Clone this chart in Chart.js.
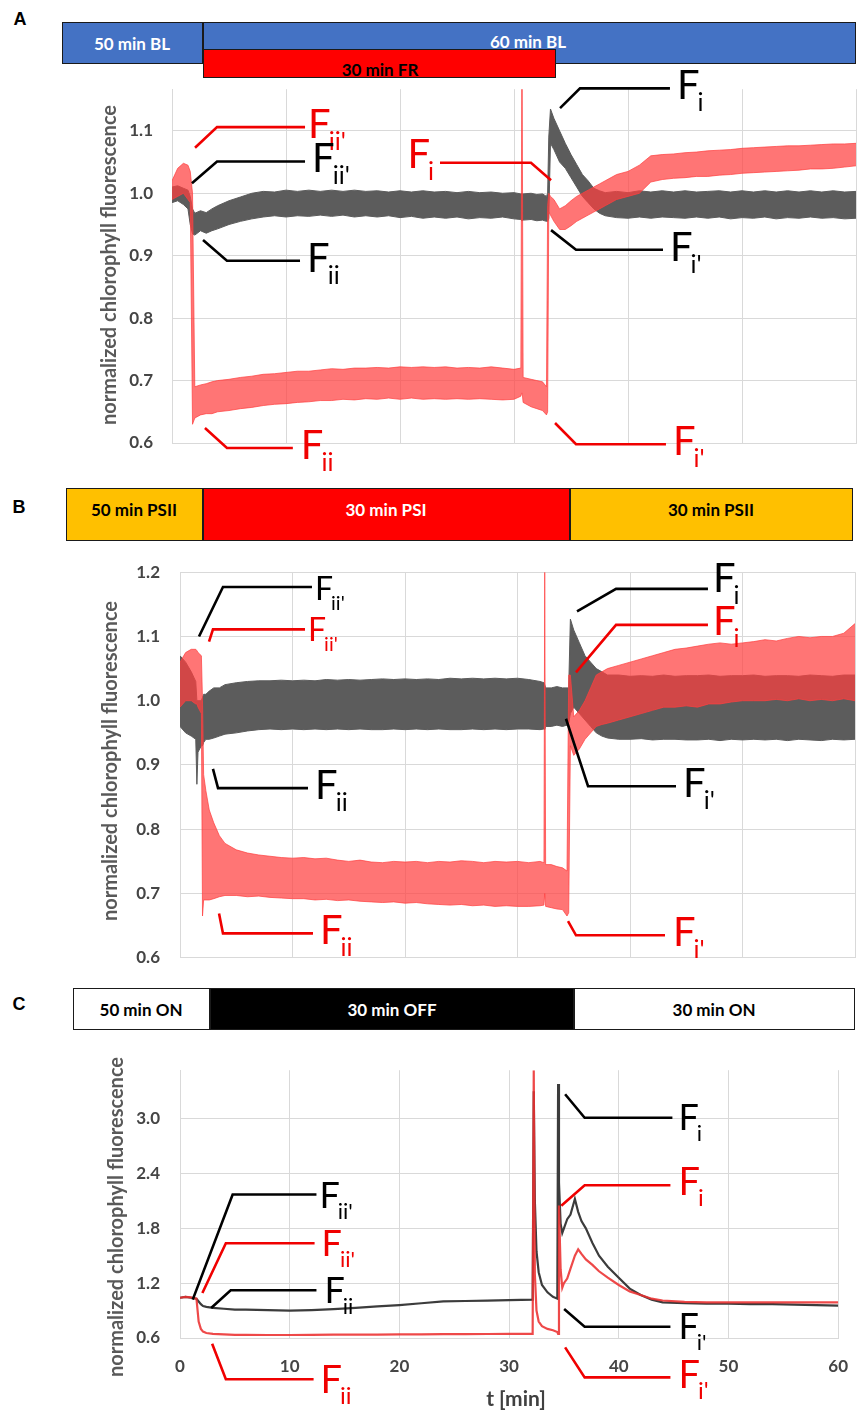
<!DOCTYPE html>
<html><head><meta charset="utf-8">
<script src="https://cdn.jsdelivr.net/npm/chart.js@4.4.1/dist/chart.umd.min.js"></script>
<style>
html,body{margin:0;padding:0;background:#fff;}
#page{position:relative;width:866px;height:1417px;overflow:hidden;font-family:Lato,"Open Sans",sans-serif;}
.box{position:absolute;box-sizing:border-box;border:1.5px solid #1a1a1a;}
.lbl{position:absolute;transform:translate(-50%,-50%);font-weight:700;font-size:17px;white-space:nowrap;line-height:1;}
.letter{position:absolute;transform:translate(-50%,-50%);font-family:"Liberation Sans",Arial,sans-serif;font-weight:700;font-size:18px;line-height:1;}
.wrap{position:absolute;left:0;width:866px;overflow:hidden;}
canvas{display:block;}
</style></head>
<body>
<div id="page">
  <!-- Panel A condition bars -->
  <div class="letter" style="left:20px;top:19px">A</div>
  <div class="box" style="left:62px;top:22px;width:141px;height:42px;background:#4472C4"></div>
  <div class="box" style="left:203px;top:22px;width:653px;height:42px;background:#4472C4"></div>
  <div class="box" style="left:203px;top:49px;width:353px;height:29px;background:#FF0000"></div>
  <div class="lbl" style="left:132px;top:43px;color:#fff">50 min BL</div>
  <div class="lbl" style="left:528px;top:41px;color:#fff">60 min BL</div>
  <div class="lbl" style="left:380px;top:69px;color:#000">30 min FR</div>
  <div class="wrap" style="top:60px;height:420px"><canvas id="cA" width="866" height="420" style="width:866px;height:420px"></canvas></div>

  <!-- Panel B condition bars -->
  <div class="letter" style="left:19px;top:507px">B</div>
  <div class="box" style="left:66px;top:488px;width:137px;height:53px;background:#FFC000"></div>
  <div class="box" style="left:203px;top:488px;width:367px;height:53px;background:#FF0000"></div>
  <div class="box" style="left:570px;top:488px;width:283px;height:53px;background:#FFC000"></div>
  <div class="lbl" style="left:134px;top:509px;color:#000">50 min PSII</div>
  <div class="lbl" style="left:386px;top:509px;color:#fff">30 min PSI</div>
  <div class="lbl" style="left:711px;top:509px;color:#000">30 min PSII</div>
  <div class="wrap" style="top:542px;height:426px"><canvas id="cB" width="866" height="446" style="width:866px;height:446px"></canvas></div>

  <!-- Panel C condition bars -->
  <div class="letter" style="left:19px;top:1004px">C</div>
  <div class="box" style="left:73px;top:988px;width:137px;height:42px;background:#FFFFFF"></div>
  <div class="box" style="left:210px;top:988px;width:364px;height:42px;background:#000000"></div>
  <div class="box" style="left:574px;top:988px;width:281px;height:42px;background:#FFFFFF"></div>
  <div class="lbl" style="left:141px;top:1009px;color:#000">50 min ON</div>
  <div class="lbl" style="left:392px;top:1009px;color:#fff">30 min OFF</div>
  <div class="lbl" style="left:714px;top:1009px;color:#000">30 min ON</div>
  <div class="wrap" style="top:1040px;height:377px"><canvas id="cC" width="866" height="377" style="width:866px;height:377px"></canvas></div>
</div>
<script>
// ---------- DATA ----------
const xTicks = [0, 10, 20, 30, 40, 50, 60];
const yTicksA = [0.6, 0.7, 0.8, 0.9, 1.0, 1.1];
const yTicksB = [0.6, 0.7, 0.8, 0.9, 1.0, 1.1, 1.2];
const yTicksC = [0.6, 1.2, 1.8, 2.4, 3.0];

// Panel A: time (min) and noise envelopes (low / high) of each trace
const tA = [0,0.5,1,1.4,1.6,1.8,2.0,2.5,3,3.5,
  4,5,6,7,8,9,10,11,12,13,
  14,15,16,17,18,19,20,21,22,23,
  24,25,26,27,28,29,30,30.6,30.68,30.72,
  30.8,31.5,32,32.5,32.85,32.95,33.05,33.2,33.5,34,
  34.5,35,35.5,36,36.5,37,37.5,38,39,40,
  41,42,43,44,45,46,47,48,49,50,
  51,52,53,54,55,56,57,58,59,60];
const blackA_lo = [0.985,0.988,0.982,0.975,0.95,0.935,0.933,0.94,0.936,0.94,
  0.943,0.95,0.955,0.959,0.962,0.964,0.962,0.964,0.963,0.965,
  0.963,0.965,0.962,0.964,0.962,0.964,0.961,0.963,0.960,0.962,
  0.960,0.962,0.959,0.961,0.960,0.962,0.959,0.958,0.956,0.956,
  0.957,0.958,0.956,0.957,0.955,0.955,0.96,1.08,1.07,1.05,
  1.04,1.025,1.01,0.995,0.985,0.975,0.968,0.964,0.961,0.960,
  0.962,0.960,0.962,0.961,0.960,0.962,0.960,0.962,0.959,0.961,
  0.960,0.962,0.959,0.961,0.960,0.962,0.960,0.961,0.959,0.960];
const blackA_hi = [1.01,1.012,1.008,1.005,0.995,0.975,0.968,0.972,0.969,0.975,
  0.98,0.988,0.994,1.0,1.003,1.002,1.005,1.003,1.005,1.003,
  1.005,1.003,1.005,1.003,1.004,1.002,1.004,1.002,1.004,1.002,
  1.003,1.001,1.003,1.001,1.002,1.0,1.001,0.999,1.0,0.999,
  0.999,1.0,0.998,0.999,0.995,1.0,1.09,1.135,1.12,1.1,
  1.08,1.062,1.046,1.03,1.02,1.008,1.004,1.001,1.003,1.001,
  1.004,1.002,1.004,1.002,1.004,1.002,1.003,1.004,1.002,1.004,
  1.002,1.004,1.002,1.004,1.002,1.004,1.002,1.004,1.002,1.003];
const redA_lo = [0.99,0.995,1.0,0.99,0.985,0.63,0.64,0.645,0.647,0.647,
  0.65,0.652,0.655,0.657,0.66,0.662,0.663,0.665,0.666,0.668,
  0.668,0.670,0.669,0.671,0.670,0.672,0.670,0.672,0.670,0.671,
  0.670,0.671,0.670,0.671,0.670,0.669,0.670,0.675,0.68,0.68,
  0.665,0.658,0.655,0.652,0.645,0.65,0.97,0.965,0.955,0.942,
  0.942,0.948,0.955,0.96,0.965,0.97,0.975,0.98,0.99,0.995,
  1.0,1.018,1.022,1.024,1.025,1.027,1.027,1.029,1.030,1.032,
  1.033,1.034,1.035,1.036,1.037,1.039,1.039,1.040,1.042,1.044];
const redA_hi = [1.02,1.04,1.048,1.045,1.035,1.0,0.69,0.693,0.695,0.698,
  0.70,0.702,0.705,0.707,0.71,0.711,0.713,0.715,0.715,0.717,
  0.719,0.718,0.720,0.720,0.721,0.720,0.722,0.721,0.722,0.721,
  0.722,0.720,0.721,0.720,0.722,0.720,0.718,0.72,1.17,1.17,
  0.705,0.702,0.70,0.698,0.69,0.98,1.0,0.995,0.99,0.975,
  0.98,0.988,0.995,1.0,1.005,1.01,1.015,1.02,1.03,1.035,
  1.045,1.06,1.062,1.063,1.065,1.066,1.068,1.069,1.070,1.072,
  1.073,1.074,1.075,1.076,1.076,1.077,1.078,1.079,1.079,1.08];

// Panel B
const tB = [0,0.5,1,1.4,1.5,1.6,1.9,2.0,2.1,2.3,
  2.6,3,3.5,4,5,6,7,8,9,10,
  11,12,13,14,15,16,17,18,19,20,
  21,22,23,24,25,26,27,28,29,30,
  31,32,32.35,32.42,32.5,33,33.5,34,34.4,34.55,
  34.7,35,35.5,36,36.5,37,37.5,38,39,40,
  41,42,43,44,45,46,47,48,49,50,
  51,52,53,54,55,56,57,58,59,60];
const blackB_lo = [0.96,0.95,0.945,0.94,0.87,0.92,0.93,0.93,0.935,0.94,
  0.94,0.942,0.945,0.948,0.95,0.953,0.955,0.956,0.955,0.956,
  0.955,0.956,0.955,0.956,0.955,0.956,0.955,0.955,0.956,0.955,
  0.956,0.955,0.956,0.955,0.955,0.956,0.955,0.956,0.955,0.956,
  0.956,0.955,0.956,0.955,0.96,0.96,0.962,0.96,0.962,0.965,
  0.98,0.99,0.98,0.97,0.96,0.95,0.945,0.942,0.940,0.940,
  0.941,0.939,0.940,0.940,0.939,0.939,0.940,0.938,0.940,0.939,
  0.940,0.939,0.940,0.938,0.940,0.939,0.938,0.940,0.939,0.940];
const blackB_hi = [1.07,1.06,1.045,1.03,1.0,1.0,1.0,1.005,1.01,1.01,
  1.015,1.02,1.02,1.025,1.028,1.03,1.031,1.031,1.032,1.031,
  1.032,1.031,1.033,1.032,1.033,1.032,1.033,1.034,1.033,1.034,
  1.033,1.034,1.033,1.035,1.034,1.035,1.034,1.035,1.034,1.035,
  1.033,1.03,1.028,1.025,1.02,1.02,1.022,1.02,1.02,1.02,
  1.127,1.11,1.09,1.07,1.06,1.05,1.045,1.04,1.04,1.038,
  1.039,1.038,1.04,1.038,1.039,1.039,1.04,1.038,1.039,1.039,
  1.04,1.038,1.039,1.039,1.038,1.04,1.039,1.038,1.04,1.04];
const redB_lo = [0.99,1.0,1.0,0.995,0.995,0.99,0.98,0.665,0.69,0.69,
  0.69,0.692,0.695,0.697,0.697,0.695,0.696,0.694,0.693,0.692,
  0.692,0.69,0.691,0.689,0.69,0.688,0.687,0.686,0.687,0.685,
  0.686,0.684,0.683,0.682,0.683,0.681,0.682,0.68,0.681,0.68,
  0.68,0.681,0.682,0.70,0.68,0.678,0.676,0.675,0.665,0.67,
  0.93,0.915,0.925,0.94,0.95,0.96,0.963,0.965,0.97,0.975,
  0.98,0.985,0.99,0.99,0.992,0.99,0.995,0.995,0.998,1.0,
  1.0,1.0,1.002,1.0,1.003,1.0,1.002,1.0,1.003,1.0];
const redB_hi = [1.06,1.075,1.08,1.08,1.078,1.075,1.07,1.0,0.885,0.86,
  0.83,0.81,0.79,0.778,0.768,0.763,0.76,0.758,0.756,0.755,
  0.756,0.754,0.755,0.752,0.75,0.752,0.749,0.748,0.75,0.749,
  0.75,0.748,0.75,0.749,0.751,0.75,0.748,0.75,0.749,0.75,
  0.748,0.75,0.748,1.2,0.745,0.745,0.742,0.74,0.735,1.04,
  1.04,0.975,0.985,1.0,1.02,1.04,1.045,1.05,1.055,1.06,
  1.065,1.07,1.075,1.08,1.082,1.085,1.088,1.09,1.088,1.09,
  1.092,1.095,1.093,1.097,1.1,1.098,1.1,1.1,1.105,1.12];

// Panel C
const tC = [0,0.5,1,1.5,1.7,1.9,2.1,2.4,3,4,
  5,6,8,10,12,14,16,18,20,22,
  24,26,28,30,32.15,32.25,32.35,32.5,32.7,33,
  33.5,34,34.4,34.47,34.55,34.7,34.85,35,35.3,35.6,
  36,36.3,36.6,37,37.6,38.2,39,40,41,42,
  43,44,46,48,50,52,54,56,58,60];
const blackC = [1.04,1.05,1.04,1.03,1.0,0.97,0.95,0.94,0.93,0.92,
  0.91,0.91,0.905,0.90,0.905,0.915,0.93,0.945,0.96,0.98,
  1.0,1.005,1.01,1.015,1.02,3.3,2.1,1.55,1.32,1.18,
  1.1,1.05,1.03,3.38,2.3,1.85,1.75,1.8,1.9,1.95,
  2.12,1.98,1.88,1.8,1.64,1.5,1.38,1.26,1.14,1.07,
  1.02,0.99,0.98,0.975,0.975,0.97,0.97,0.965,0.96,0.955];
const redC = [1.04,1.05,1.045,1.03,0.78,0.70,0.67,0.655,0.645,0.64,
  0.635,0.635,0.633,0.633,0.635,0.636,0.637,0.638,0.64,0.64,
  0.642,0.642,0.644,0.645,0.646,3.53,1.3,0.9,0.78,0.73,
  0.7,0.685,0.665,0.645,2.05,1.35,1.15,1.2,1.25,1.36,
  1.5,1.57,1.52,1.46,1.4,1.33,1.26,1.18,1.11,1.07,
  1.03,1.01,0.995,0.99,0.99,0.99,0.99,0.99,0.99,0.99];

// ---------- STYLE ----------
const GRID = '#d9d9d9', TICKC = '#454545', TITLEC = '#595959';
const GRAY = '#5c5c5c', PINK = 'rgba(255,64,64,0.72)';
const RED = '#f00000', BLK = '#000000';
const YTITLE = 'normalized chlorophyll fluorescence';

// annotation leader lines (data coordinates) and subscripts
const notesA = [
  {pts:[[2.02,1.073],[3.95,1.106],[11.67,1.106]], color:RED, sub:"ii'"},
  {pts:[[1.75,1.016],[3.95,1.051],[11.67,1.051]], color:BLK, sub:"ii'", gap:7},
  {pts:[[2.72,0.925],[4.82,0.892],[11.23,0.892]], color:BLK, sub:"ii", gap:7},
  {pts:[[2.89,0.624],[4.82,0.592],[10.6,0.592]], color:RED, sub:"ii", gap:8},
  {pts:[[34.04,1.1365],[35.79,1.168],[43.68,1.168]], color:BLK, sub:"i", gap:7},
  {pts:[[23.51,1.049],[31.49,1.049],[33.25,1.021]], color:RED, sub:"i", side:'left', dy:5},
  {pts:[[33.25,0.941],[35.44,0.9095],[43.07,0.9095]], color:BLK, sub:"i'", gap:7},
  {pts:[[33.6,0.632],[35.44,0.598],[43.33,0.598]], color:RED, sub:"i'", gap:7}
];
const notesB = [
  {pts:[[1.69,1.1],[3.82,1.177],[11.73,1.177]], color:BLK, sub:"ii'", size:32, dy:13},
  {pts:[[2.58,1.092],[2.93,1.111],[11.11,1.111]], color:RED, sub:"ii'", size:32, dy:12},
  {pts:[[2.93,0.894],[3.38,0.864],[11.38,0.864]], color:BLK, sub:"ii", gap:7},
  {pts:[[3.47,0.669],[3.82,0.638],[11.82,0.638]], color:RED, sub:"ii", gap:7},
  {pts:[[35.29,1.139],[38.76,1.174],[46.93,1.174]], color:BLK, sub:"i", dy:3, gap:5},
  {pts:[[35.2,1.044],[38.76,1.118],[46.93,1.118]], color:RED, sub:"i", dy:10, gap:5},
  {pts:[[34.31,0.972],[36.27,0.867],[44.09,0.867]], color:BLK, sub:"i'", gap:7},
  {pts:[[34.49,0.657],[35.2,0.635],[43.11,0.635]], color:RED, sub:"i'", gap:8}
];
const notesC = [
  {pts:[[1.16,1.02],[4.8,2.17],[12.44,2.17]], color:BLK, sub:"ii'", size:36, dy:13},
  {pts:[[2.04,1.092],[4.18,1.636],[12.27,1.636]], color:RED, sub:"ii'", size:36, dy:13, gap:7},
  {pts:[[2.84,0.928],[4.62,1.123],[12.44,1.123]], color:BLK, sub:"ii", size:36, dy:13, gap:8},
  {pts:[[2.93,0.538],[4.18,0.149],[12.18,0.149]], color:RED, sub:"ii", size:38, dy:14, gap:7},
  {pts:[[35.11,3.267],[36.89,3.01],[44.89,3.01]], color:BLK, sub:"i", size:36, dy:12, gap:6},
  {pts:[[34.76,2.046],[36.89,2.272],[44.71,2.272]], color:RED, sub:"i", size:38, dy:10, gap:8},
  {pts:[[35.02,0.918],[36.89,0.723],[44.71,0.723]], color:BLK, sub:"i'", size:36, dy:12, gap:8},
  {pts:[[35.11,0.497],[36.89,0.169],[44.71,0.169]], color:RED, sub:"i'", size:38, dy:11, gap:8}
];

// ---------- PLUGIN: leader-line labels & axis titles ----------
const decor = {
  id: 'decor',
  afterDraw(chart, args, opts) {
    const ctx = chart.ctx, xs = chart.scales.x, ys = chart.scales.y;
    ctx.save();
    (opts.notes || []).forEach(n => {
      const p = n.pts.map(([t, v]) => [xs.getPixelForValue(t), ys.getPixelForValue(v)]);
      ctx.strokeStyle = n.color; ctx.lineWidth = 2.6; ctx.lineJoin = 'miter'; ctx.lineCap = 'butt';
      ctx.beginPath();
      p.forEach(([x, y], i) => i ? ctx.lineTo(x, y) : ctx.moveTo(x, y));
      ctx.stroke();
      const size = n.size || 40, ssize = Math.round(size * 0.62);
      ctx.fillStyle = n.color; ctx.textAlign = 'left'; ctx.textBaseline = 'alphabetic';
      ctx.font = size + 'px Lato'; const wF = ctx.measureText('F').width;
      ctx.font = ssize + 'px Lato'; const wS = ctx.measureText(n.sub).width;
      let ax, ay;
      if (n.side === 'left') { ax = p[0][0] - 6 - (wF - 2 + wS); ay = p[0][1]; }
      else { ax = p[p.length - 1][0] + (n.gap ?? 3); ay = p[p.length - 1][1]; }
      const base = ay + (n.dy ?? 11);
      ctx.font = size + 'px Lato'; ctx.fillText('F', ax, base);
      ctx.font = ssize + 'px Lato'; ctx.fillText(n.sub, ax + wF - 2, base + Math.round(size * 0.3));
    });
    (opts.texts || []).forEach(tx => {
      ctx.save(); ctx.translate(tx.x, tx.y); if (tx.rot) ctx.rotate(tx.rot);
      ctx.font = tx.font; ctx.fillStyle = tx.color; ctx.textAlign = 'center'; ctx.textBaseline = 'middle';
      ctx.fillText(tx.text, 0, 0); ctx.restore();
    });
    ctx.restore();
  }
};

function band(t, lo, hi, color, order) {
  const pts = arr => t.map((x, i) => ({x: x, y: arr[i]}));
  return [
    {data: pts(lo), borderColor: color, borderWidth: 1, pointRadius: 0, fill: false, order: order, tension: 0},
    {data: pts(hi), borderColor: color, backgroundColor: color, borderWidth: 1, pointRadius: 0, fill: '-1', order: order, tension: 0}
  ];
}
function line(t, v, color, order) {
  return {data: t.map((x, i) => ({x: x, y: v[i]})), borderColor: color, borderWidth: 2.2, pointRadius: 0, fill: false, order: order, tension: 0};
}

const tickFont = {family: 'Lato', weight: 'bold', size: 17};
function makeChart(id, c) {
  return new Chart(document.getElementById(id), {
    type: 'line',
    data: {datasets: c.datasets},
    options: {
      responsive: false, animation: false, events: [], devicePixelRatio: 1,
      layout: {padding: c.pad},
      plugins: {legend: {display: false}, tooltip: {enabled: false}, decor: {notes: c.notes, texts: c.texts}},
      scales: {
        x: {type: 'linear', min: 0, max: 60,
            afterBuildTicks: s => { s.ticks = xTicks.map(v => ({value: v})); },
            afterFit: s => { s.height = c.xAxisH; },
            grid: {color: GRID, lineWidth: 1, drawTicks: false},
            border: {color: GRID, width: 1},
            ticks: {display: c.xLabels, padding: 18, color: TICKC, font: tickFont, maxRotation: 0, autoSkip: false, callback: v => String(v)}},
        y: {type: 'linear', min: c.yMin, max: c.yMax,
            afterBuildTicks: s => { s.ticks = c.yTicks.map(v => ({value: v})); },
            afterFit: s => { s.width = c.axisW; },
            grid: {color: GRID, lineWidth: 1, drawTicks: false},
            border: {color: GRID, width: 1},
            ticks: {padding: c.tickPad, color: TICKC, font: tickFont, callback: v => Number(v).toFixed(1)}}
      }
    },
    plugins: [decor]
  });
}

makeChart('cA', {
  datasets: [...band(tA, blackA_lo, blackA_hi, GRAY, 1), ...band(tA, redA_lo, redA_hi, PINK, 0)],
  yMin: 0.6, yMax: 1.1667, yTicks: yTicksA, axisW: 172, tickPad: 19,
  pad: {left: 0, right: 10, top: 28, bottom: 37}, xAxisH: 0, xLabels: false,
  notes: notesA,
  texts: [{text: YTITLE, x: 110, y: 205, rot: -Math.PI / 2, font: 'bold 20px Lato', color: TITLEC}]
});
makeChart('cB', {
  datasets: [...band(tB, blackB_lo, blackB_hi, GRAY, 1), ...band(tB, redB_lo, redB_hi, PINK, 0)],
  yMin: 0.6, yMax: 1.2, yTicks: yTicksB, axisW: 180, tickPad: 20,
  pad: {left: 0, right: 11, top: 17, bottom: 23}, xAxisH: 0, xLabels: false,
  notes: notesB,
  texts: [{text: YTITLE, x: 111, y: 219, rot: -Math.PI / 2, font: 'bold 20px Lato', color: TITLEC}]
});
makeChart('cC', {
  datasets: [line(tC, blackC, '#3c3c3c', 1), line(tC, redC, 'rgba(236,48,48,0.88)', 0)],
  yMin: 0.6, yMax: 3.53, yTicks: yTicksC, axisW: 180, tickPad: 20,
  pad: {left: 0, right: 11, top: 12, bottom: 0}, xAxisH: 79, xLabels: true,
  notes: notesC,
  texts: [{text: YTITLE, x: 117, y: 177, rot: -Math.PI / 2, font: 'bold 20px Lato', color: TITLEC},
          {text: 't [min]', x: 516, y: 359, font: 'bold 21px Lato', color: '#404040'}]
});
</script>
</body></html>
